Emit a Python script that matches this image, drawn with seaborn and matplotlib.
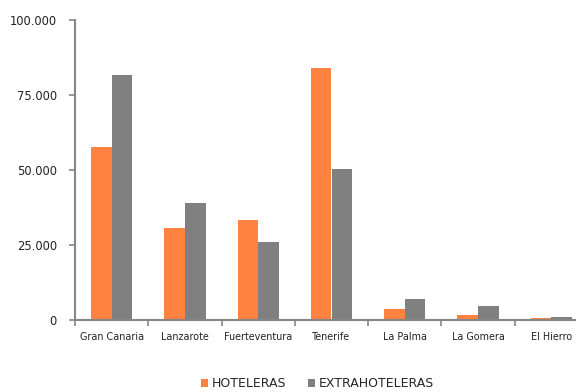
import matplotlib
matplotlib.use("Agg")
import matplotlib.pyplot as plt
import seaborn as sns
import pandas as pd
import numpy as np
from matplotlib.ticker import FuncFormatter, FixedLocator
from matplotlib.patches import Patch

islands = ["Gran Canaria", "Lanzarote", "Fuerteventura", "Tenerife", "La Palma", "La Gomera", "El Hierro"]
hoteleras = [57600, 30500, 33300, 83900, 3800, 1700, 700]
extrahoteleras = [81400, 38900, 25800, 50400, 7000, 4500, 850]
series = ["HOTELERAS", "EXTRAHOTELERAS"]
colors = ["#FF8240", "#808080"]
yticks = [0, 25000, 50000, 75000, 100000]

df = pd.DataFrame({
    "isla": islands * 2,
    "tipo": [series[0]] * len(islands) + [series[1]] * len(islands),
    "valor": hoteleras + extrahoteleras,
})

sns.set_style("white")
plt.rcParams["font.family"] = ["DejaVu Sans"]

fig = plt.figure(figsize=(5.76, 3.92), dpi=100)
left = 75 / 576
right = 588 / 576
ax = fig.add_axes([left, 0.1837, right - left, 0.950 - 0.1837])

sns.barplot(data=df, x="isla", y="valor", hue="tipo", palette=colors,
            width=0.565, gap=0, saturation=1, ax=ax, legend=False,
            edgecolor="none", linewidth=0)

ax.set_xlim(-0.5, len(islands) - 0.5)
ax.set_ylim(0, 100000)
ax.set_yticks(yticks)
ax.yaxis.set_major_formatter(FuncFormatter(lambda v, p: f"{int(v):,}".replace(",", ".")))
ax.set_xlabel("")
ax.set_ylabel("")

for s in ["top", "right"]:
    ax.spines[s].set_visible(False)
for s in ["left", "bottom"]:
    ax.spines[s].set_color("#868686")
    ax.spines[s].set_linewidth(1.5)

ax.tick_params(axis="y", left=True, length=4, width=1.2, color="#868686",
               labelsize=8.3, labelcolor="#222222", pad=9)
ax.tick_params(axis="x", which="major", bottom=False, length=0, labelsize=6.9,
               labelcolor="#222222", pad=9)
ax.xaxis.set_minor_locator(FixedLocator(np.arange(-0.5, len(islands), 1.0)))
ax.tick_params(axis="x", which="minor", bottom=True, length=4, width=1.2, color="#868686")

handles = [Patch(facecolor=c, edgecolor="none", label=l) for c, l in zip(colors, series)]
fig.legend(handles=handles, loc="center", bbox_to_anchor=(0.551, 0.021), ncol=2,
           frameon=False, fontsize=9.0, handlelength=0.6, handleheight=0.6,
           handletextpad=0.3, columnspacing=1.7)

fig.savefig("out.png", dpi=100)
